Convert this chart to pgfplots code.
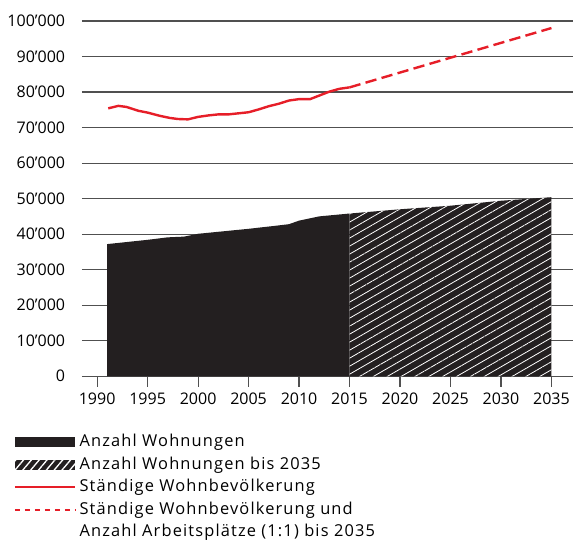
\documentclass[border=0pt]{standalone}
\usepackage{fontspec}
\setmainfont{Open Sans}
\newfontfamily\legfamily{Open Sans}[LetterSpace=7]
\usepackage{pgfplots}
\pgfplotsset{compat=1.18}
\usetikzlibrary{patterns.meta}
\definecolor{areablack}{RGB}{35,31,32}
\definecolor{lred}{RGB}{230,30,40}
\definecolor{gridgray}{RGB}{80,80,80}
\newcommand{\lfont}{\fontsize{12pt}{14pt}\selectfont}
\newcommand{\legfont}{\legfamily\fontsize{12.3pt}{14pt}\selectfont}
\begin{document}
\begin{tikzpicture}
\useasboundingbox (-61.5pt,-125.8pt) rectangle (372.75pt,282.2pt);
\begin{axis}[
  scale only axis,
  width=368pt, height=266.5pt,
  xmin=1988.5, xmax=2037.1,
  ymin=0, ymax=100000,
  axis line style={draw=none},
  xtick={1990,1995,2000,2005,2010,2015,2020,2025,2030,2035},
  xticklabels={1990,1995,2000,2005,2010,2015,2020,2025,2030,2035},
  ytick={0,10000,20000,30000,40000,50000,60000,70000,80000,90000,100000},
  yticklabels={0,10’000,20’000,30’000,40’000,50’000,60’000,70’000,80’000,90’000,100’000},
  ymajorgrids,
  major grid style={gridgray, line width=0.85pt},
  xtick pos=bottom,
  tick align=outside,
  major tick length=8pt,
  xtick style={gridgray, line width=0.85pt},
  ytick style={draw=none},
  xticklabel style={font=\lfont, inner sep=0pt, yshift=-4pt},
  yticklabel style={font=\lfont, inner sep=0pt, xshift=-4.5pt},
  scaled y ticks=false,
  legend style={draw=none, fill=none, inner sep=0pt, outer sep=0pt,
    anchor=north west, at={(axis description cs:-0.1386,-0.1614)},
    font=\legfont, row sep=3.875pt, column sep=2.5pt,
    nodes={inner sep=0pt, text height=10pt, text depth=3pt}},
  legend cell align=left,
]
\addplot[fill=areablack, draw=none,
  legend image code/.code={\fill[areablack] (0pt,-3.6pt) rectangle (45.5pt,3.6pt);}]
  coordinates {(1991,37200) (1995,38400) (1997,39100) (1998.6,39300) (2000,40100) (2005,41500) (2007.5,42300) (2009,42800) (2010,43800) (2012,45000) (2015,45800)} \closedcycle;
\addlegendentry{Anzahl Wohnungen}
\addplot[fill=areablack, draw=none, forget plot]
  coordinates {(2015,45800) (2020,47000) (2025,48000) (2030,49400) (2035,50400)} \closedcycle;
\addplot[draw=none, pattern={Lines[angle=30, distance=5.2pt, line width=0.6pt]}, pattern color=white,
  legend image code/.code={\path[fill=areablack] (0pt,-3.6pt) rectangle (45.5pt,3.6pt);
     \path[pattern={Lines[angle=50, distance=4.5pt, line width=1pt]}, pattern color=white] (0pt,-3.6pt) rectangle (45.5pt,3.6pt);}]
  coordinates {(2015,45800) (2020,47000) (2025,48000) (2030,49400) (2035,50400)} \closedcycle;
\addlegendentry{Anzahl Wohnungen bis 2035}
\addplot[lred, line width=1.8pt,
  legend image code/.code={\draw[lred, line width=1.2pt] (0pt,0pt) -- (45.5pt,0pt);}]
  coordinates {(1991.1,75400) (1992.1,76100) (1992.9,75800) (1994.1,74700) (1995,74200) (1996.2,73300) (1997.2,72700) (1998,72400) (1999,72300) (2000,73000) (2001,73400) (2002,73700) (2003,73700) (2004,74000) (2005,74300) (2006,75100) (2007,76000) (2008,76700) (2009,77600) (2010,78000) (2011.1,78000) (2012,79000) (2013,80100) (2014,80900) (2015,81300)};
\addlegendentry{Ständige Wohnbevölkerung}
\addplot[lred, line width=1.8pt, dash pattern=on 8.5pt off 4pt,
  legend image code/.code={\draw[lred, line width=1.2pt, dash pattern=on 3.75pt off 3.75pt] (0pt,0pt) -- (45.5pt,0pt);}]
  coordinates {(2015,81300) (2035,98000)};
\addlegendentry{Ständige Wohnbevölkerung und}
\addlegendimage{empty legend}
\addlegendentry{Anzahl Arbeitsplätze (1:1) bis 2035}
\end{axis}
\end{tikzpicture}
\end{document}
